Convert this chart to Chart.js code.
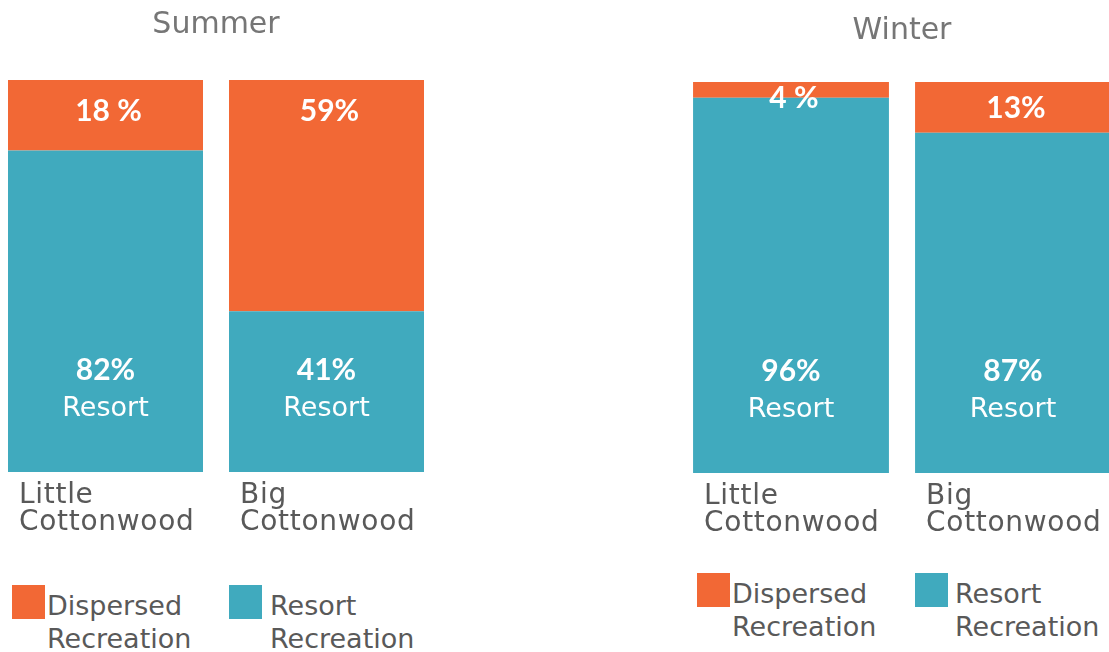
<!DOCTYPE html>
<html lang="en">
<head>
<meta charset="UTF-8">
<title>Summer / Winter recreation</title>
<script src="https://cdn.jsdelivr.net/npm/chart.js@4.4.1/dist/chart.umd.min.js"></script>
<style>
  html, body { margin: 0; padding: 0; background: #fff; }
  body { width: 1109px; height: 652px; position: relative; overflow: hidden; font-family: "DejaVu Sans", sans-serif; }
  canvas { position: absolute; top: 0; }
  #summerChart { left: -5px; }
  #winterChart { left: 680px; }
  .legend-box { position: absolute; width: 33px; height: 34px; }
  .legend-text { position: absolute; width: 165px; font-size: 27px; line-height: 33px; color: #595959; }
</style>
</head>
<body>
<canvas id="summerChart" width="442" height="560"></canvas>
<canvas id="winterChart" width="444" height="560"></canvas>
<div id="summerLegend"></div>
<div id="winterLegend"></div>

<script>
// Datos
const categories = [['Little', 'Cottonwood'], ['Big', 'Cottonwood']];
const seriesNames = ['Resort Recreation', 'Dispersed Recreation'];
const summerResort = [82, 41];
const summerDispersed = [18, 59];
const winterResort = [96, 87];
const winterDispersed = [4, 13];
// textos tal como aparecen sobre las barras
const summerDispersedText = ['18 %', '59%'];
const winterDispersedText = ['4 %', '13%'];
const resortWord = 'Resort';

const orange = '#F26835';
const teal = '#40AABE';

// Textos dentro de las barras y etiquetas de categoría
const barText = {
    id: 'barText',
    afterDatasetsDraw(chart, args, opts) {
        const ctx = chart.ctx;
        const resortMeta = chart.getDatasetMeta(0);
        const dispMeta = chart.getDatasetMeta(1);
        ctx.save();
        ctx.fillStyle = '#fff';
        ctx.textAlign = 'center';
        ctx.textBaseline = 'alphabetic';
        resortMeta.data.forEach((bar, i) => {
            ctx.font = 'bold 30px Lato';
            ctx.fillText(chart.data.datasets[0].data[i] + '%', bar.x, bar.base - 92);
            ctx.font = '27px "DejaVu Sans"';
            ctx.fillText(resortWord, bar.x, bar.base - 56);
        });
        dispMeta.data.forEach((bar, i) => {
            let mid = Math.min((bar.y + bar.base) / 2, bar.y + 30);
            mid = Math.max(mid, bar.y + 15);
            ctx.font = 'bold 30px Lato';
            ctx.fillText(opts.texts[i], bar.x + 3, mid + 11);
        });

        ctx.fillStyle = '#595959';
        ctx.textAlign = 'left';
        ctx.font = '28px "DejaVu Sans"';
        ctx.letterSpacing = '0.7px';
        resortMeta.data.forEach((bar, i) => {
            const x = bar.x - bar.width / 2 + 11;
            chart.data.labels[i].forEach((line, j) => {
                ctx.fillText(line, x, chart.chartArea.bottom + 31 + j * 27);
            });
        });
        ctx.restore();
    }
};

function crearGrafico(id, titulo, resort, dispersed, textos, padTitulo, padAbajo) {
    return new Chart(document.getElementById(id), {
        type: 'bar',
        data: {
            labels: categories,
            datasets: [
                { label: seriesNames[0], data: resort, backgroundColor: teal },
                { label: seriesNames[1], data: dispersed, backgroundColor: orange }
            ]
        },
        options: {
            responsive: false,
            animation: false,
            layout: { padding: { bottom: padAbajo } },
            datasets: { bar: { barPercentage: 1, categoryPercentage: 195 / 221 } },
            scales: {
                x: { stacked: true, display: false },
                y: { stacked: true, display: false, min: 0, max: 100 }
            },
            plugins: {
                legend: { display: false },
                tooltip: { enabled: false },
                title: {
                    display: true,
                    text: titulo,
                    color: '#767676',
                    font: { family: 'DejaVu Sans', size: 30, weight: 'normal' },
                    padding: padTitulo
                },
                barText: { texts: textos }
            }
        },
        plugins: [barText]
    });
}

// Leyenda HTML a partir de los datasets
function crearLeyenda(containerId, chart, pos) {
    const cont = document.getElementById(containerId);
    const items = chart.data.datasets.slice().reverse();
    items.forEach((ds, i) => {
        const box = document.createElement('div');
        box.className = 'legend-box';
        box.style.left = pos.boxX[i] + 'px';
        box.style.top = pos.boxTop + 'px';
        box.style.background = ds.backgroundColor;
        cont.appendChild(box);

        const txt = document.createElement('div');
        txt.className = 'legend-text';
        txt.style.left = pos.textX[i] + 'px';
        txt.style.top = pos.textTop + 'px';
        txt.textContent = ds.label;
        cont.appendChild(txt);
    });
}

const summerChart = crearGrafico('summerChart', 'Summer', summerResort, summerDispersed,
    summerDispersedText, { top: 7, bottom: 37 }, 88);
const winterChart = crearGrafico('winterChart', 'Winter', winterResort, winterDispersed,
    winterDispersedText, { top: 13, bottom: 33 }, 87);

crearLeyenda('summerLegend', summerChart, { boxX: [12, 229], boxTop: 585, textX: [47, 270], textTop: 589 });
crearLeyenda('winterLegend', winterChart, { boxX: [697, 915], boxTop: 573, textX: [732, 955], textTop: 577 });
</script>
</body>
</html>
